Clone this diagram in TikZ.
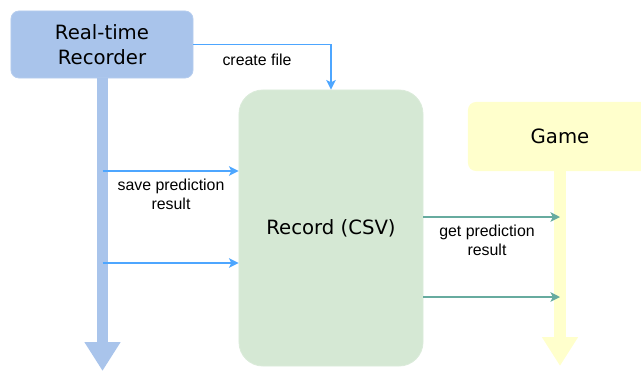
\documentclass[tikz,border=0pt]{standalone}
\usepackage{fontspec}
\usepackage{tikz}
\usetikzlibrary{arrows.meta,calc,positioning}
\newfontfamily\boxfont{DejaVu Sans}
\newfontfamily\labfont{Liberation Sans}
\definecolor{recblue}{RGB}{169,196,235}
\definecolor{csvgreen}{RGB}{213,232,212}
\definecolor{gameyellow}{RGB}{255,255,204}
\definecolor{callblue}{RGB}{77,166,255}
\definecolor{callteal}{RGB}{103,171,159}
\tikzset{
  block/.style={draw=#1!85!white,fill=#1,line width=0.6pt,rounded corners=0.2cm,
                minimum width=4.55cm,minimum height=1.675cm,align=center,
                font=\boxfont\fontsize{14}{17.8}\selectfont,inner sep=0pt},
  lifeline/.style={draw=#1,line width=0.275cm,-{Triangle[length=0.72cm,width=0.85cm]}},
  flow/.style={draw=#1,line width=0.9pt,-{Stealth[length=2.4mm,width=2.4mm,inset=0.6mm]}},
  note/.style={font=\labfont\fontsize{11.3}{13.5}\selectfont,align=center,inner sep=0pt},
}

\begin{document}
\begin{tikzpicture}[x=0.025cm,y=-0.025cm]
  \useasboundingbox (0,0) rectangle (641,371);
  \clip (0,0) rectangle (641,371);

  % the three parties
  \node[block=recblue] (rec) at (102,44.5) {Real-time\\Recorder};
  \node[block=csvgreen,minimum width=4.6cm,minimum height=6.9cm,rounded corners=0.6cm]
    (csv) at (331,228) {Record (CSV)};
  \node[block=gameyellow,draw=none,minimum width=4.6cm,minimum height=1.725cm] (game) at (560,136.5) {};
  \node[font=\boxfont\fontsize{14}{17.8}\selectfont] (gametxt) at (game.center) {Game};

  % time lines below the recorder and the game
  \coordinate (recend) at (102.5,371);
  \coordinate (gameend) at (560,366);
  \draw[lifeline=recblue] (rec.south -| recend) -- (recend);
  \draw[lifeline=gameyellow] (game.south) -- (gameend);

  % recorder writes the file
  \draw[flow=callblue] (rec.east) -| (csv.north);
  \node[note] (lcreate) at (257,60) {create file};

  \coordinate (save1) at (102.5,171);
  \coordinate (save2) at (102.5,263);
  \draw[flow=callblue] (save1) -- (save1 -| csv.west);
  \draw[flow=callblue] (save2) -- (save2 -| csv.west);
  \node[note] (lsave) at (171,194) {save prediction\\result};

  % game reads the file
  \coordinate (get1) at (560,217);
  \coordinate (get2) at (560,297);
  \draw[flow=callteal] (get1 -| csv.east) -- (get1);
  \draw[flow=callteal] (get2 -| csv.east) -- (get2);
  \node[note] (lget) at (487,240) {get prediction\\result};
\end{tikzpicture}
\end{document}
